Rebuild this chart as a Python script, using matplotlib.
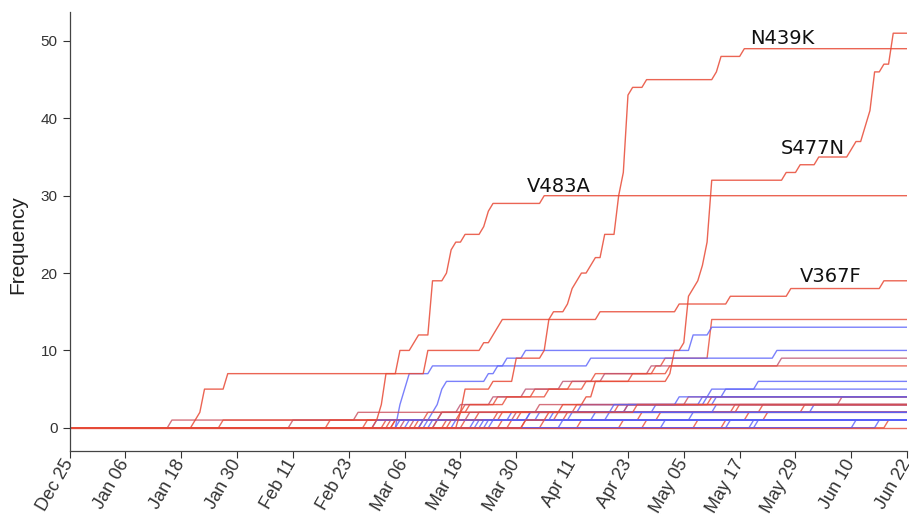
import numpy as np
import matplotlib
matplotlib.use("Agg")
import matplotlib.pyplot as plt
import matplotlib.dates as mdates

start = np.datetime64("2019-12-25")
n_days = 181

# big named mutations: day offsets (from Dec 25) with number of new sequences
s477n_days = [98, 103, 106, 111, 113, 129, 130, 132, 133, 134, 135, 136, 137, 138,
              154, 157, 161, 168, 169, 171, 172, 173, 175, 177]
s477n_new = [1, 1, 1, 1, 2, 1, 3, 1, 6, 1, 1, 2, 3, 8, 1, 1, 1, 1, 1, 2, 2, 5, 1, 4]

n439k_days = [84, 85, 91, 96, 102, 103, 104, 107, 108, 109, 110, 112, 113, 115,
              118, 119, 120, 121, 124, 139, 140, 145]
n439k_new = [2, 3, 1, 3, 1, 4, 1, 1, 2, 1, 1, 1, 1, 3, 5, 3, 10, 1, 1, 1, 2, 1]

v483a_days = [66, 67, 68, 71, 74, 75, 78, 81, 82, 83, 85, 89, 90, 91, 102]
v483a_new = [1, 2, 4, 3, 1, 1, 7, 1, 3, 1, 1, 1, 2, 1, 1]

v367f_days = [27, 28, 29, 34, 77, 89, 91, 92, 93, 114, 131, 142, 155, 175]
v367f_new = [1, 1, 3, 2, 3, 1, 1, 1, 1, 1, 1, 1, 1, 1]

# other positions: days with one new sequence each
minor_events = [
    [70, 80, 85, 92, 100, 108, 113, 126, 128, 138, 138, 138, 138, 138],
    [77, 78, 79, 80, 80, 81, 90, 92, 94, 98, 134, 134, 138],
    [71, 71, 71, 72, 72, 73, 73, 78, 112, 152],
    [72, 80, 84, 91, 98, 106, 115, 125, 153],
    [68, 77, 86, 94, 103, 111, 121, 129],
    [79, 95, 126, 137, 138, 148],
    [83, 101, 120, 139, 141],
    [22, 62, 120, 166],
    [75, 92, 109, 138],
    [78, 99, 110, 136],
    [33, 88, 143],
    [70, 105, 149],
    [73, 104, 160],
    [48, 96],
    [56, 146],
    [82, 150],
    [87, 134],
    [64, 84, 118],
    [69, 97],
    [74, 86, 101, 133],
    [79, 107],
    [85, 123, 158],
    [90, 116],
    [95, 127, 144],
    [66, 99, 117, 131],
    [71, 108],
    [88, 113, 139],
    [76, 93, 122],
    [81], [93], [102], [119], [135], [141], [176], [110], [124], [98],
    [76], [89], [106], [142], [147], [148], [169], [174], [91], [128],
    [],
]
# 0 = blue, 1 = red
minor_tone = [1, 0, 0, 0.7, 1, 0, 0, 0.8, 1, 0, 1, 1, 0, 0.8, 1, 1, 0,
              1, 1, 0.8, 1, 1, 0, 1, 0, 0, 0, 1,
              1, 1, 1, 1, 1, 1, 1, 1, 1, 1,
              0, 0, 0, 0, 0, 0, 0, 0, 0, 0,
              1]

labels = ["N439K", "S477N", "V483A", "V367F"]
label_day = [146.3, 152.8, 98.2, 156.9]
label_val = [49.6, 35.4, 30.5, 18.9]

blue = np.array([0.35, 0.38, 0.98])
red = np.array([0.91, 0.29, 0.21])


def cumulative(days, new):
    counts = np.zeros(n_days)
    np.add.at(counts, np.array(days, dtype=int), new)
    return np.cumsum(counts)


def main():
    dates = start + np.arange(n_days).astype("timedelta64[D]")
    plt.rcParams["font.family"] = ["Liberation Sans", "DejaVu Sans"]
    fig = plt.figure(figsize=(9.09, 5.19), dpi=100)
    ax = fig.add_axes([0.0765, 0.131, 0.9215, 0.846])

    for ev, tone in zip(minor_events, minor_tone):
        c = blue * (1 - tone) + red * tone
        y = cumulative(ev, np.ones(len(ev)))
        ax.plot(dates, y, color=c, lw=1.0, alpha=0.8)

    for d, n in [(v367f_days, v367f_new), (v483a_days, v483a_new),
                 (n439k_days, n439k_new), (s477n_days, s477n_new)]:
        ax.plot(dates, cumulative(d, n), color=red, lw=1.0, alpha=0.85)

    for t, d, v in zip(labels, label_day, label_val):
        ax.text(start + np.timedelta64(int(round(d * 24)), "h"), v, t,
                fontsize=14, family="DejaVu Sans", color="#111111",
                va="baseline", ha="left")

    ax.set_xlim(start, start + np.timedelta64(180, "D"))
    ax.set_ylim(-3, 53.75)
    ax.set_xticks(start + np.arange(0, 181, 12).astype("timedelta64[D]"))
    ax.xaxis.set_major_formatter(mdates.DateFormatter("%b %d"))
    ax.set_yticks([0, 10, 20, 30, 40, 50])
    ax.tick_params(axis="both", colors="#333333", length=5, width=0.8)
    ax.tick_params(axis="y", labelsize=11)
    ax.tick_params(axis="x", labelsize=13, pad=2)
    plt.setp(ax.get_xticklabels(), rotation=60, ha="right", va="center",
             rotation_mode="anchor")
    ax.set_ylabel("Frequency", fontsize=15, color="#222222")
    ax.yaxis.set_label_coords(-0.05, 0.47)
    for s in ["top", "right"]:
        ax.spines[s].set_visible(False)
    for s in ["left", "bottom"]:
        ax.spines[s].set_color("#444444")
        ax.spines[s].set_linewidth(0.9)

    fig.savefig("out.png", dpi=100)


if __name__ == "__main__":
    main()
